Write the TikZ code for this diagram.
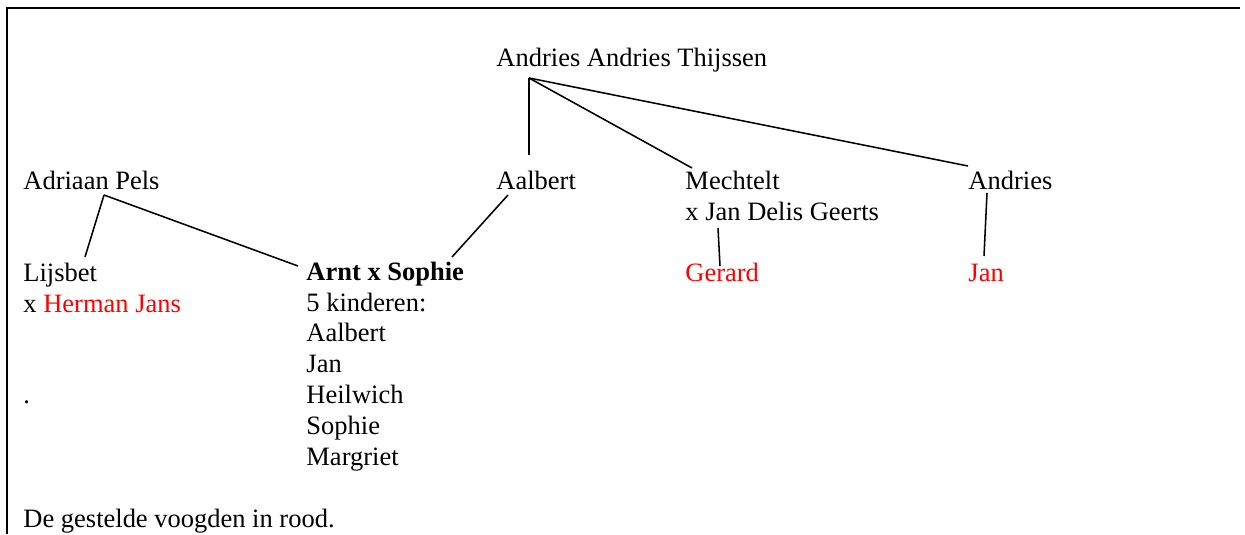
\documentclass[tikz,border=0pt]{standalone}
\usepackage{fontspec}
\setmainfont{Liberation Serif}
\begin{document}
\begin{tikzpicture}[x=0.453pt,y=-0.453pt,
		naam/.style={anchor=base west,inner sep=0pt,font=\fontsize{12}{13.95}\selectfont,align=left},
		tak/.style={line width=0.7pt}]
		%%%%% START %%%%%
		\useasboundingbox (0,0) rectangle (1245,534);
		\draw[line width=1pt] (7,534) -- (7,8) -- (1240,8);
		
		% multi-line nodes sit on the baseline of their last line
		\node[naam] (stam) at (496,66) {Andries Andries Thijssen};
		\node[naam] (pels) at (23,189) {Adriaan Pels};
		\node[naam] (aalbert) at (496,189) {Aalbert};
		\node[naam] (mechtelt) at (685,220) {Mechtelt\\x Jan Delis Geerts};
		\node[naam] (andries) at (968,189) {Andries};
		
		\node[naam] (lijsbet) at (23,312) {Lijsbet\\x \textcolor{red}{Herman Jans}};
		\node[naam] (arnt) at (306,465) {\textbf{Arnt x Sophie}\\5 kinderen:\\Aalbert\\Jan\\Heilwich\\Sophie\\Margriet};
		\node[naam] (punt) at (23,403) {.};
		\node[naam,red] (gerard) at (685,281) {Gerard};
		\node[naam,red] (jan) at (968,281) {Jan};
		
		\node[naam] (noot) at (23,527) {De gestelde voogden in rood.};
		
		\coordinate (stamvork) at (529,78);
		\coordinate (pelsvork) at (104,195);
		\coordinate (aalbertvoet) at (508,195);
		\coordinate (mechteltvoet) at (718,228);
		\coordinate (andriesvoet) at (987,193);
		
		\draw[tak] (stamvork) -- (529,155);
		\draw[tak] (stamvork) -- (692,168);
		\draw[tak] (stamvork) -- (968,166);
		
		\draw[tak] (pelsvork) -- (85,257);
		\draw[tak] (pelsvork) -- (298,266);
		\draw[tak] (aalbertvoet) -- (452,257);
		\draw[tak] (mechteltvoet) -- (720,266);
		\draw[tak] (andriesvoet) -- (984,256);
		%%%%% END %%%%%
\end{tikzpicture}
\end{document}
